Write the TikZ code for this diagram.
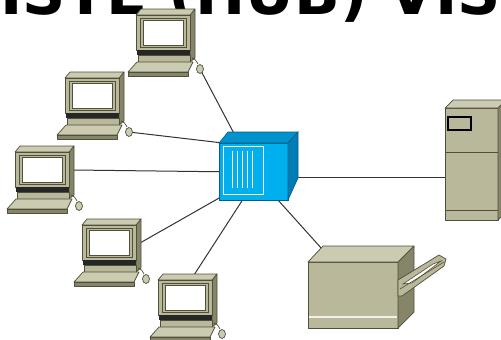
\documentclass[tikz,border=0pt]{standalone}
\usepackage{fontspec}
\newfontfamily\headfont{DejaVu Sans}
\usetikzlibrary{positioning}
\definecolor{boxfill}{HTML}{B9B89B}
\definecolor{boxtop}{HTML}{CBCBB2}
\definecolor{boxside}{HTML}{86856A}
\definecolor{boxedge}{HTML}{4F4F3A}
\definecolor{hubfront}{HTML}{00B0EE}
\definecolor{hubtop}{HTML}{0092CC}
\definecolor{hubside}{HTML}{007DB4}
\definecolor{hubedge}{HTML}{005E8C}
\definecolor{wire}{HTML}{333333}
\pgfdeclarelayer{wires}
\pgfsetlayers{wires,main}

\begin{document}
\begin{tikzpicture}[
  x=1pt, y=-1pt,
  every node/.style={inner sep=0pt, outer sep=0pt},
  face/.style={fill=boxfill, draw=boxedge, line width=0.7pt, line join=round},
  topface/.style={face, fill=boxtop},
  sideface/.style={face, fill=boxside},
  hubbox/.style={rectangle, minimum width=69pt, minimum height=57pt,
    fill=hubfront, draw=hubedge, line width=0.6pt},
  link/.style={draw=wire, line width=1pt},
  heading/.style={font=\headfont\bfseries\fontsize{60}{60}\selectfont, anchor=base west},
  % desktop computer, origin = top left corner of the monitor front
  pc/.pic={
    \filldraw[sideface] (54,0) -- (59,-6) -- (59,43) -- (54,47) -- cycle;
    \filldraw[topface] (0,0) -- (5,-6) -- (59,-6) -- (54,0) -- cycle;
    \filldraw[face] (0,0) rectangle (54,35);
    \draw[boxedge, line width=0.7pt] (4,3) rectangle (50,32);
    \filldraw[fill=white, draw=boxedge, line width=0.6pt] (7,5) rectangle (47,30);
    \fill[black!85] (1,35) rectangle (54,40);
    \filldraw[face] (2,40) rectangle (54,47);
    \filldraw[topface] (1,47) -- (57,47) -- (52,57) -- (-8,57) -- cycle;
    \filldraw[sideface] (-8,57) -- (52,57) -- (52,61) -- (-8,61) -- cycle;
    \draw[boxedge, line width=0.7pt] (62,49) .. controls (60,45) and (58,43) .. (56,43);
    \filldraw[fill=boxtop, draw=boxedge, line width=0.7pt] (64,54) ellipse (3.5 and 4.5);
    \coordinate (-mouse) at (64,54);
    \coordinate (-side) at (58,18);
    \coordinate (-top) at (36,-5);
  }
]
\useasboundingbox (0,0) rectangle (501,340);
\clip (0,0) rectangle (501,340);

\node[heading] (head) at (0,15) {ISTE (HUB) VIS};

% workstations on the left
\pic (pc1) at (136,15)  {pc};
\pic (pc2) at (65,78)   {pc};
\pic (pc3) at (15,152)  {pc};
\pic (pc4) at (82,225)  {pc};
\pic (pc5) at (158,280) {pc};

% server tower
\node[rectangle, minimum width=53pt, minimum height=112pt, face] (server) at (471.5,164) {};
\filldraw[topface] (server.north west) -- ++(8,-8) -- ++(53,0) -- (server.north east) -- cycle;
\filldraw[sideface] (server.north east) -- ++(8,-8) -- ++(0,112) -- (server.south east) -- cycle;
\draw[boxedge, line width=0.7pt] (445,152) -- (498,152) (445,210) -- (498,210);
\draw[black, line width=1.3pt] (448,117) rectangle (471,130);
\coordinate (srvport) at (445,177);

% printer
\node[rectangle, minimum width=90pt, minimum height=66pt, face] (printer) at (353,295) {};
\filldraw[topface] (printer.north west) -- ++(15,-16) -- ++(91,0) -- (printer.north east) -- cycle;
\filldraw[sideface] (printer.north east) -- ++(16,-16) -- ++(0,66) -- (printer.south east) -- cycle;
\draw[white!80!boxfill, line width=1.4pt] (309,317) -- (397,317);
\filldraw[face] (398,280) -- (439,255) -- (446,259) -- (444,266) -- (402,296) -- (398,296) -- cycle;
\filldraw[fill=white, draw=boxedge, line width=0.6pt] (403,284) -- (433,264) -- (441,261) -- (412,283) -- cycle;
\draw[boxedge, line width=0.6pt] (400,289) -- (444,262);
\coordinate (prnport) at (322,249);

% hub
\node[hubbox] (hub) at (253.5,171.5) {};
\filldraw[fill=hubtop, draw=hubedge, line width=0.6pt]
  (hub.north west) -- ++(9,-11) -- ++(70,0) -- (hub.north east) -- cycle;
\filldraw[fill=hubside, draw=hubedge, line width=0.6pt]
  (hub.north east) -- ++(10,-11) -- ++(0,46) -- (hub.south east) -- cycle;
\draw[white, line width=1pt] (223,146) rectangle (263,194);
\foreach \px in {232,237,242,247,252}
  \draw[white, line width=0.9pt] (\px,151) -- (\px,188);
\coordinate (hub1) at (248,160);
\coordinate (hub2) at (240,145);
\coordinate (hub3) at (240,172);
\coordinate (hub4) at (235,189);
\coordinate (hub5) at (249,190);
\coordinate (hub6) at (269,190);
\coordinate (hub7) at (280,177);

% cabling, kept behind the devices
\begin{pgfonlayer}{wires}
  \draw[link] (pc1-mouse) -- (hub1);
  \draw[link] (pc2-mouse) -- (hub2);
  \draw[link] (pc3-side) -- (hub3);
  \draw[link] (pc4-side) -- (hub4);
  \draw[link] (pc5-top) -- (hub5);
  \draw[link] (prnport) -- (hub6);
  \draw[link] (srvport) -- (hub7);
\end{pgfonlayer}
\end{tikzpicture}
\end{document}
